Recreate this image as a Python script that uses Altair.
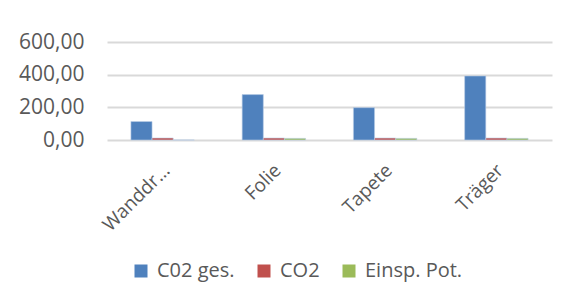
import altair as alt
import pandas as pd

categories = ["Wanddr…", "Folie", "Tapete", "Träger"]
series_names = ["C02 ges.", "CO2", "Einsp. Pot."]
co2_ges = [113, 278, 198, 392]
co2 = [12, 12, 12, 12]
einsp_pot = [0, 10, 10, 10]
y_ticks = [0, 200, 400, 600]
colors = ["#4F81BD", "#C0504D", "#9BBB59"]

rows = []
for i, c in enumerate(categories):
    for s, vals in zip(series_names, [co2_ges, co2, einsp_pot]):
        rows.append({"Kategorie": c, "Serie": s, "Wert": vals[i]})
df = pd.DataFrame(rows)

FONT = "Open Sans"
TXT = "#595959"

chart = alt.Chart(df).mark_bar(stroke="#b9cde5", strokeWidth=0.6).encode(
    x=alt.X("Kategorie:N", sort=categories, title=None,
            scale=alt.Scale(paddingInner=0.43, paddingOuter=0.215),
            axis=alt.Axis(labelAngle=-45, labelAlign="right", labelBaseline="middle",
                          labelFont=FONT, labelFontSize=19, labelColor=TXT,
                          labelPadding=27, labelOffset=4, domain=False, ticks=False,
                          labelLimit=200)),
    xOffset=alt.XOffset("Serie:N", sort=series_names),
    y=alt.Y("Wert:Q", title=None,
            scale=alt.Scale(domain=[0, 600], nice=False),
            axis=alt.Axis(values=y_ticks,
                          labelExpr="replace(format(datum.value, '.2f'), '.', ',')",
                          labelFont=FONT, labelFontSize=21, labelColor=TXT,
                          labelPadding=23, domain=False, ticks=False,
                          gridColor="#D9D9D9", gridWidth=2)),
    color=alt.Color("Serie:N", sort=series_names,
                    scale=alt.Scale(domain=series_names, range=colors),
                    legend=alt.Legend(title=None, orient="none", legendX=24, legendY=219,
                                      direction="horizontal", columns=3,
                                      symbolType="square", symbolSize=169,
                                      symbolStrokeWidth=0, labelOffset=6,
                                      columnPadding=19, padding=0,
                                      labelFont=FONT, labelFontSize=20, labelColor=TXT)),
).properties(
    width=445, height=98,
    autosize=alt.AutoSizeParams(type="none"),
    padding={"left": 99, "top": 34, "right": 16, "bottom": 142},
).configure_view(stroke=None)

chart.save("out.html", embed_options={"renderer": "svg", "actions": False})
